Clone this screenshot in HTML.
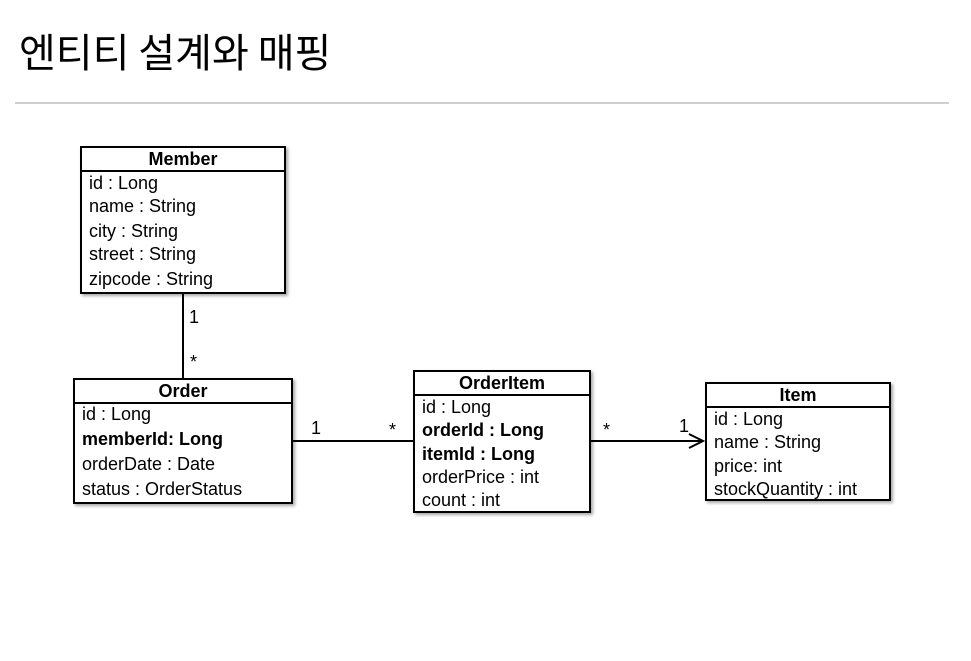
<!DOCTYPE html>
<html><head><meta charset="utf-8"><style>
body{margin:0;width:971px;height:661px;background:#fff;position:relative;overflow:hidden;font-family:"Liberation Sans","Noto Sans CJK KR",sans-serif;color:#000}
.t{position:absolute;left:19px;top:25px;font-size:40px;font-family:"Noto Sans CJK KR","NanumGothic",sans-serif;line-height:50px}
.rule{position:absolute;left:15px;top:102px;width:934px;height:2px;background:#cfcfcf}
.box{position:absolute;border:2px solid #000;background:#fff;box-shadow:2px 2px 3px rgba(0,0,0,.35);box-sizing:border-box}
.hd{font-weight:bold;text-align:center;border-bottom:2px solid #000;font-size:18px;line-height:22px}
.r{position:absolute;left:7px;font-size:18px;white-space:nowrap;line-height:20px}
.b{font-weight:bold}
.l{position:absolute;font-size:18px;line-height:18px}
</style></head><body>
<div class="t">엔티티 설계와 매핑</div>
<div class="rule"></div>
<svg width="971" height="661" style="position:absolute;left:0;top:0">
<line x1="183" y1="293" x2="183" y2="378" stroke="#000" stroke-width="2"/>
<line x1="292" y1="441" x2="413" y2="441" stroke="#000" stroke-width="2"/>
<line x1="590" y1="441" x2="703" y2="441" stroke="#000" stroke-width="2"/>
<polyline points="689,434 703,441 689,448" fill="none" stroke="#000" stroke-width="2"/>
</svg>
<div class="l" style="left:189px;top:308px">1</div>
<div class="l" style="left:190px;top:353px">*</div>
<div class="l" style="left:311px;top:419px">1</div>
<div class="l" style="left:389px;top:421px">*</div>
<div class="l" style="left:603px;top:421px">*</div>
<div class="l" style="left:679px;top:417px">1</div>

<div class="box" style="left:80px;top:146px;width:206px;height:148px">
<div class="hd">Member</div>
<div class="r" style="top:25px">id : Long</div>
<div class="r" style="top:48px">name : String</div>
<div class="r" style="top:73px">city : String</div>
<div class="r" style="top:96px">street : String</div>
<div class="r" style="top:121px">zipcode : String</div>
</div>

<div class="box" style="left:73px;top:378px;width:220px;height:126px">
<div class="hd">Order</div>
<div class="r" style="top:24px">id : Long</div>
<div class="r b" style="top:49px">memberId: Long</div>
<div class="r" style="top:74px">orderDate : Date</div>
<div class="r" style="top:99px">status : OrderStatus</div>
</div>

<div class="box" style="left:413px;top:370px;width:178px;height:143px">
<div class="hd">OrderItem</div>
<div class="r" style="top:25px">id : Long</div>
<div class="r b" style="top:48px">orderId : Long</div>
<div class="r b" style="top:72px">itemId : Long</div>
<div class="r" style="top:95px">orderPrice : int</div>
<div class="r" style="top:118px">count : int</div>
</div>

<div class="box" style="left:705px;top:382px;width:186px;height:119px">
<div class="hd">Item</div>
<div class="r" style="top:25px">id : Long</div>
<div class="r" style="top:48px">name : String</div>
<div class="r" style="top:72px">price: int</div>
<div class="r" style="top:95px">stockQuantity : int</div>
</div>
</body></html>
